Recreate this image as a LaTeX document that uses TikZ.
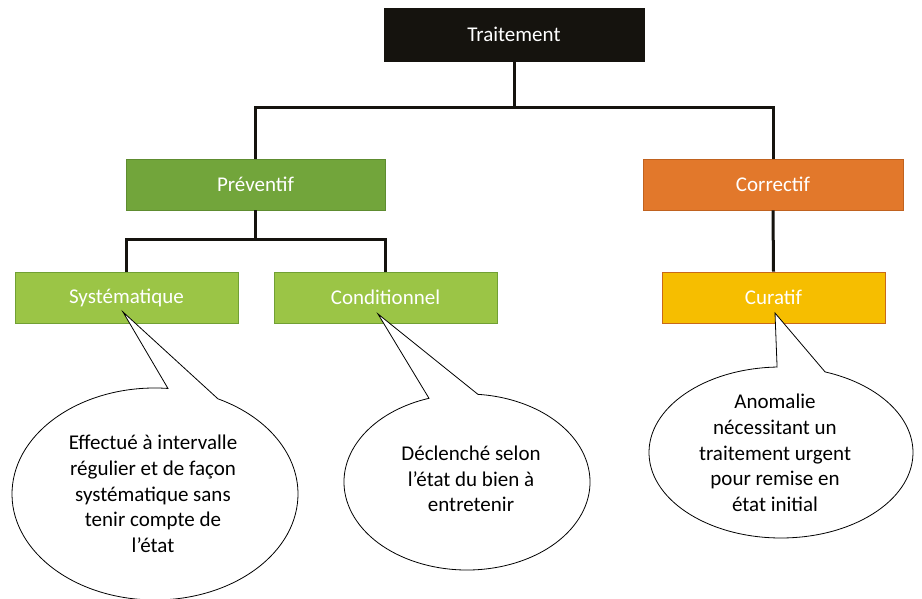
\documentclass[tikz,border=0pt]{standalone}
\usepackage{fontspec}
\setmainfont{Carlito}
\definecolor{ink}{HTML}{15130E}
\definecolor{prevfill}{HTML}{72A53B}
\definecolor{prevdraw}{HTML}{5E8C30}
\definecolor{corrfill}{HTML}{E2782B}
\definecolor{corrdraw}{HTML}{C0621F}
\definecolor{leaffill}{HTML}{9BC546}
\definecolor{leafdraw}{HTML}{71A034}
\definecolor{curfill}{HTML}{F6BE00}
\definecolor{curdraw}{HTML}{C8691A}
\begin{document}
\begin{tikzpicture}[x=1pt,y=1pt,
  box/.style={draw, line width=0.8pt, inner sep=0pt, text=white,
    font=\fontsize{21}{25.75}\selectfont},
  link/.style={draw=ink, line width=3pt, line join=miter},
  bubble/.style={draw=black, line width=0.8pt, fill=white, line join=miter},
  btext/.style={align=center, inner sep=0pt, text=black,
    font=\fontsize{21}{25.75}\selectfont}]
\useasboundingbox (0,0) rectangle (922,599);

% boxes
\node[box, fill=ink, draw=ink, minimum width=260pt, minimum height=53pt] (trait) at (514,564.5) {Traitement};
\node[box, fill=prevfill, draw=prevdraw, minimum width=259pt, minimum height=51pt] (prev) at (255.5,414.5) {Préventif};
\node[box, fill=corrfill, draw=corrdraw, minimum width=260pt, minimum height=51pt] (corr) at (773,414.5) {Correctif};
\node[box, fill=leaffill, draw=leafdraw, minimum width=223pt, minimum height=51pt] (sys) at (126.5,301.5) {Systématique};
\node[box, fill=leaffill, draw=leafdraw, minimum width=223pt, minimum height=51pt] (cond) at (385.5,301.5) {Conditionnel};
\node[box, fill=curfill, draw=curdraw, minimum width=223pt, minimum height=51pt] (cur) at (773.5,301.5) {Curatif};

% connectors
\coordinate (j1) at (514,491);
\coordinate (j2) at (255.5,359);
\draw[link] (trait.south) -- (j1) -| (prev.north);
\draw[link] (j1) -| (corr.north);
\draw[link] (prev.south) -- (j2) -| (sys.north);
\draw[link] (j2) -| (cond.north);
\draw[link] (corr.south) -- (cur.north);

% callout tips
\coordinate (t1) at ([shift={(-3.5,-14.5)}]sys.center);
\coordinate (t2) at ([shift={(-7.5,-16.5)}]cond.center);
\coordinate (t3) at ([shift={(1.5,-15.5)}]cur.center);
\coordinate (c1) at (155,105);
\coordinate (c2) at (467,117);
\coordinate (c3) at (781,146.5);

\draw[bubble] (c1) ++(84.8:143pt and 106pt)
  arc[start angle=84.8, end angle=423.9, x radius=143pt, y radius=106pt] -- (t1) -- cycle;
\draw[bubble] (c2) ++(108:123pt and 88pt)
  arc[start angle=108, end angle=444.9, x radius=123pt, y radius=88pt] -- (t2) -- cycle;
\draw[bubble] (c3) ++(91.7:132pt and 85.5pt)
  arc[start angle=91.7, end angle=430.5, x radius=132pt, y radius=85.5pt] -- (t3) -- cycle;

\node[btext] (b1) at (153,105) {Effectué à intervalle\\régulier et de façon\\systématique sans\\tenir compte de\\l’état};
\node[btext] (b2) at (471,120) {Déclenché selon\\l’état du bien à\\entretenir};
\node[btext] (b3) at (775,146) {Anomalie\\nécessitant un\\traitement urgent\\pour remise en\\état initial};
\end{tikzpicture}
\end{document}
